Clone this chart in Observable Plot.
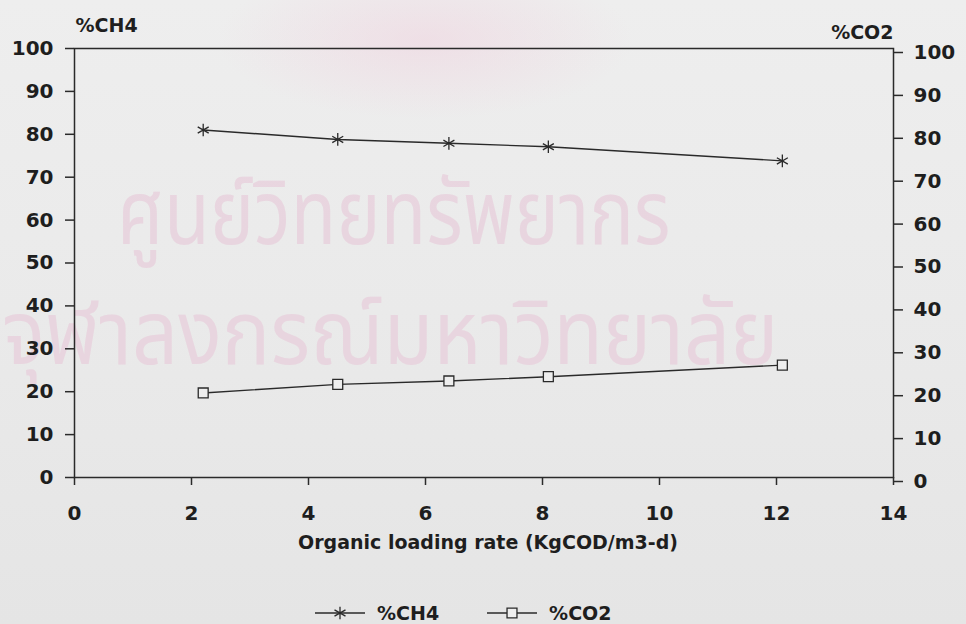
<!DOCTYPE html>
<html>
<head>
<meta charset="utf-8">
<script src="https://cdn.jsdelivr.net/npm/d3@7"></script>
<script src="https://cdn.jsdelivr.net/npm/@observablehq/plot@0.6"></script>
<style>
  html, body { margin: 0; padding: 0; }
  body {
    width: 966px; height: 624px; overflow: hidden;
    background: linear-gradient(180deg, #eeeeee 0%, #eaeaea 50%, #e5e5e5 100%);
    font-family: "DejaVu Sans", sans-serif; font-weight: bold; color: #1e1e1e;
  }
  #wrap { position: relative; width: 966px; height: 624px; }
  .wm { position: absolute; white-space: nowrap; color: #e8cddb; opacity: 0.7; transform-origin: 0 0;
        font-family: "Noto Sans Thai", "Loma", "Garuda", "Norasi", "Tlwg Typo", sans-serif; font-weight: normal; }
  #emblem { position: absolute; left: 215px; top: -40px; width: 420px; height: 160px;
            border-radius: 50%; background: radial-gradient(ellipse at center, rgba(240,205,220,0.45), rgba(240,205,220,0) 70%); }
  #chart { position: absolute; left: 0; top: 0; }
  #legend { position: absolute; left: 315px; top: 600px; display: flex; align-items: center; font-size: 19px; }
  .item { display: flex; align-items: center; }
  .item svg { margin-right: 12px; }
</style>
</head>
<body>
<div id="wrap">
  <div id="emblem"></div>
  <div class="wm" id="wm1" style="left:117px; top:172px; font-size:90px; line-height:1; transform: scaleX(0.83);">ศูนย์วิทยทรัพยากร</div>
  <div class="wm" id="wm2" style="left:2px; top:292px; font-size:90px; line-height:1; transform: scaleX(0.9);">จุฬาลงกรณ์มหาวิทยาลัย</div>
  <div id="chart"></div>
  <div id="legend"></div>
</div>
<script>
// ---- data ----
const loadingRate = [2.2, 4.5, 6.4, 8.1, 12.1];
const ch4Percent  = [81.0, 78.8, 77.9, 77.1, 73.8];
const co2Percent  = [19.7, 21.7, 22.5, 23.5, 26.2];
const xTicks = [0, 2, 4, 6, 8, 10, 12, 14];
const yTicks = [0, 10, 20, 30, 40, 50, 60, 70, 80, 90, 100];
const seriesNames = ["%CH4", "%CO2"];
const xTitle = "Organic loading rate (KgCOD/m3-d)";

const ch4 = loadingRate.map((x, i) => ({x, y: ch4Percent[i]}));
const co2 = loadingRate.map((x, i) => ({x, y: co2Percent[i]}));

const ink = "#2a2a2a";
const W = 966, H = 580;

const chart = Plot.plot({
  width: W, height: H,
  marginLeft: 74, marginRight: 73, marginTop: 48, marginBottom: H - 477,
  style: { background: "transparent", fontFamily: "DejaVu Sans, sans-serif", fontWeight: "bold", fontSize: "20px", color: "#1e1e1e", overflow: "visible" },
  x: { domain: [0, 14] },
  y: { domain: [0, 100] },
  marks: [
    Plot.frame({ stroke: ink, strokeWidth: 1.5 }),
    Plot.axisX({ ticks: xTicks, tickSize: 8, tickPadding: 20, label: null, stroke: ink, strokeWidth: 1.5, fontSize: 20, fill: "#1e1e1e" }),
    Plot.axisY({ anchor: "left", ticks: yTicks, tickSize: 9, tickPadding: 12, label: null, stroke: ink, strokeWidth: 1.5, fontSize: 20, fill: "#1e1e1e" }),
    Plot.axisY({ anchor: "right", ticks: yTicks, tickSize: 9, tickPadding: 11, label: null, dy: 4, stroke: ink, strokeWidth: 1.5, fontSize: 20, fill: "#1e1e1e" }),
    Plot.text([seriesNames[0]], { frameAnchor: "top-left", text: d => d, textAnchor: "start", lineAnchor: "middle", dx: 1, dy: -23, fontSize: 19 }),
    Plot.text([seriesNames[1]], { frameAnchor: "top-right", text: d => d, textAnchor: "end", lineAnchor: "middle", dx: 0, dy: -16, fontSize: 19 }),
    Plot.text([xTitle], { frameAnchor: "bottom", text: d => d, textAnchor: "middle", lineAnchor: "middle", dx: 4, dy: 65, fontSize: 19 }),
    Plot.line(ch4, { x: "x", y: "y", stroke: ink, strokeWidth: 1.4 }),
    Plot.line(co2, { x: "x", y: "y", stroke: ink, strokeWidth: 1.4 }),
    Plot.dot(ch4, { x: "x", y: "y", symbol: "asterisk", r: 6, stroke: ink, strokeWidth: 1.3 }),
    Plot.dot(co2, { x: "x", y: "y", symbol: "square", r: 5.6, stroke: ink, fill: "#eeeeee", strokeWidth: 1.3 })
  ]
});
document.getElementById("chart").appendChild(chart);

// ---- legend ----
const legend = d3.select("#legend");
const symbols = [d3.symbolAsterisk, d3.symbolSquare];
const sizes = [Math.PI * 36, Math.PI * 5.6 * 5.6];
seriesNames.forEach((name, i) => {
  const item = legend.append("div").attr("class", "item").style("margin-right", i === 0 ? "48px" : "0");
  const s = item.append("svg").attr("width", 50).attr("height", 26);
  s.append("line").attr("x1", 0).attr("x2", 50).attr("y1", 13).attr("y2", 13).attr("stroke", ink).attr("stroke-width", 1.4);
  s.append("path").attr("transform", "translate(25,13)").attr("d", d3.symbol(symbols[i], sizes[i])())
    .attr("stroke", ink).attr("stroke-width", 1.3).attr("fill", i === 0 ? "none" : "#eeeeee");
  item.append("span").text(name);
});
</script>
</body>
</html>
